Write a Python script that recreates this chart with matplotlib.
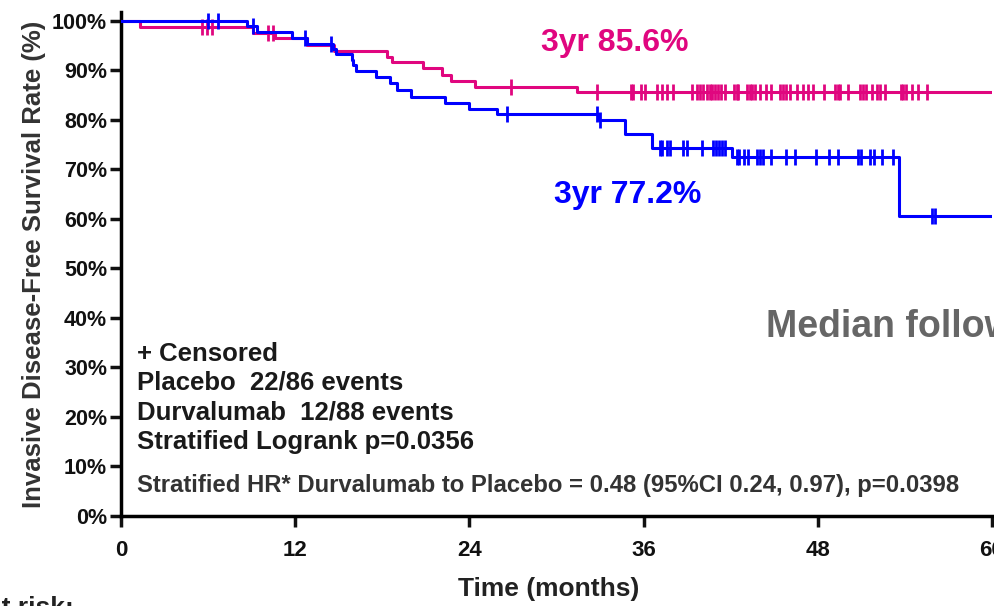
import numpy as np
import matplotlib
matplotlib.use("Agg")
import matplotlib.pyplot as plt

# step curves: event times (months) and survival (%) after each step
pink_t = [0, 1.3, 9.1, 10.6, 12.8, 14.7, 18.3, 18.7, 20.8, 22.1, 22.7, 24.4, 31.4]
pink_s = [100, 98.8, 97.6, 96.5, 95.2, 94.0, 92.8, 91.6, 90.4, 89.1, 87.9, 86.7, 85.6]
blue_t = [0, 8.7, 9.4, 11.8, 12.8, 14.6, 14.8, 15.9, 16.0, 16.2, 17.6, 18.5, 19.0,
          20.0, 22.3, 24.0, 25.9, 32.9, 34.7, 36.6, 42.1, 53.6]
blue_s = [100, 98.9, 97.7, 96.6, 95.4, 94.3, 93.4, 92.2, 91.0, 89.8, 88.6, 87.4, 86.1,
          84.7, 83.5, 82.2, 81.1, 79.9, 77.2, 74.4, 72.6, 60.6]

pink_cens = [5.6, 5.9, 6.3, 10.1, 10.5, 26.9, 32.8, 35.1, 35.3, 35.8, 36.1, 36.9, 37.3,
             37.6, 38.0, 39.3, 39.7, 39.9, 40.1, 40.4, 40.6, 40.7, 40.9, 41.1, 41.3,
             41.6, 42.2, 42.4, 42.5, 43.1, 43.3, 43.5, 43.7, 44.0, 44.4, 44.8, 45.4,
             45.6, 45.8, 46.1, 46.6, 47.0, 47.3, 47.7, 48.4, 49.2, 49.4, 49.5, 50.1,
             50.9, 51.1, 51.3, 51.7, 52.1, 52.3, 52.6, 53.7, 53.9, 54.1, 54.5, 54.9, 55.5]
blue_cens = [6.0, 6.7, 9.1, 12.7, 14.5, 26.6, 32.8, 33.0, 37.1, 37.3, 37.6, 37.8, 38.7,
             39.0, 40.0, 40.8, 41.0, 41.2, 41.4, 41.6, 42.4, 42.6, 42.9, 43.2, 43.8,
             44.0, 44.2, 44.8, 45.8, 46.4, 47.9, 48.8, 49.4, 50.8, 51.0, 51.6, 51.9,
             52.4, 53.2, 55.9, 56.1]

x_ticks = [0, 12, 24, 36, 48, 60]
y_ticks = [0, 10, 20, 30, 40, 50, 60, 70, 80, 90, 100]

PINK = "#E0067F"
BLUE = "#0000FF"
SANS = ["Liberation Sans", "DejaVu Sans"]


def surv_at(times, surv, t):
    i = np.searchsorted(times, t, side="right") - 1
    return np.array(surv)[i]


fig = plt.figure(figsize=(9.95, 6.06), dpi=100)
ax = fig.add_axes([121 / 995, 90 / 606, 871 / 995, 504 / 606])

for t, s, c, col in [(pink_t, pink_s, pink_cens, PINK), (blue_t, blue_s, blue_cens, BLUE)]:
    tt = list(t) + [60]
    ss = list(s) + [s[-1]]
    ax.step(tt, ss, where="post", color=col, linewidth=2.2, zorder=3)
    ax.plot(c, surv_at(t, s, np.array(c)), linestyle="none", marker="|",
            markersize=12, markeredgewidth=2, color=col, zorder=3)

ax.set_xlim(0, 60)
ax.set_ylim(0, 101.8)
ax.set_xticks(x_ticks)
ax.set_xticklabels([str(v) for v in x_ticks])
ax.set_yticks(y_ticks)
ax.set_yticklabels([f"{v}%" for v in y_ticks])
for lab in ax.get_xticklabels():
    lab.set_family(SANS)
    lab.set_fontweight("bold")
    lab.set_fontsize(16)
for lab in ax.get_yticklabels():
    lab.set_family(SANS)
    lab.set_fontweight("bold")
    lab.set_fontsize(15.5)
ax.tick_params(direction="out", length=8, width=2.5, pad=2, colors="#111111")
ax.tick_params(axis="x", pad=9)
for side in ["top", "right"]:
    ax.spines[side].set_visible(False)
for side in ["left", "bottom"]:
    ax.spines[side].set_linewidth(2.5)

ax.set_xlabel("Time (months)", family=SANS, fontweight="bold", fontsize=19,
              color="#222222", labelpad=12)
ax.xaxis.label.set_x(0.491)
ax.set_ylabel("Invasive Disease-Free Survival Rate (%)", family=SANS,
              fontweight="bold", fontsize=18.5, color="#333333", labelpad=4)

ax.text(0.482, 0.938, "3yr 85.6%", transform=ax.transAxes, color=PINK,
        family=SANS, fontweight="bold", fontsize=23, va="center")
ax.text(0.497, 0.637, "3yr 77.2%", transform=ax.transAxes, color=BLUE,
        family=SANS, fontweight="bold", fontsize=23, va="center")
ax.text(0.74, 0.375, "Median follow-up", transform=ax.transAxes, color="#666666",
        family=SANS, fontweight="bold", fontsize=27, va="center", clip_on=False)

lines = ["+ Censored", "Placebo  22/86 events", "Durvalumab  12/88 events",
         "Stratified Logrank p=0.0356"]
line_y = [0.321, 0.264, 0.205, 0.147]
for s, yy in zip(lines, line_y):
    ax.text(0.018, yy, s, transform=ax.transAxes, color="#1a1a1a",
            family=SANS, fontweight="bold", fontsize=18.5, va="center")
ax.text(0.018, 0.0615, "Stratified HR* Durvalumab to Placebo = 0.48 (95%CI 0.24, 0.97), p=0.0398",
        transform=ax.transAxes, color="#333333", family=SANS, fontweight="bold",
        fontsize=17.2, va="center")

fig.text(-0.035, 0.016, "# at risk:", color="#222222", family=SANS,
         fontweight="bold", fontsize=19, va="top")

fig.savefig("out.png", dpi=100)
